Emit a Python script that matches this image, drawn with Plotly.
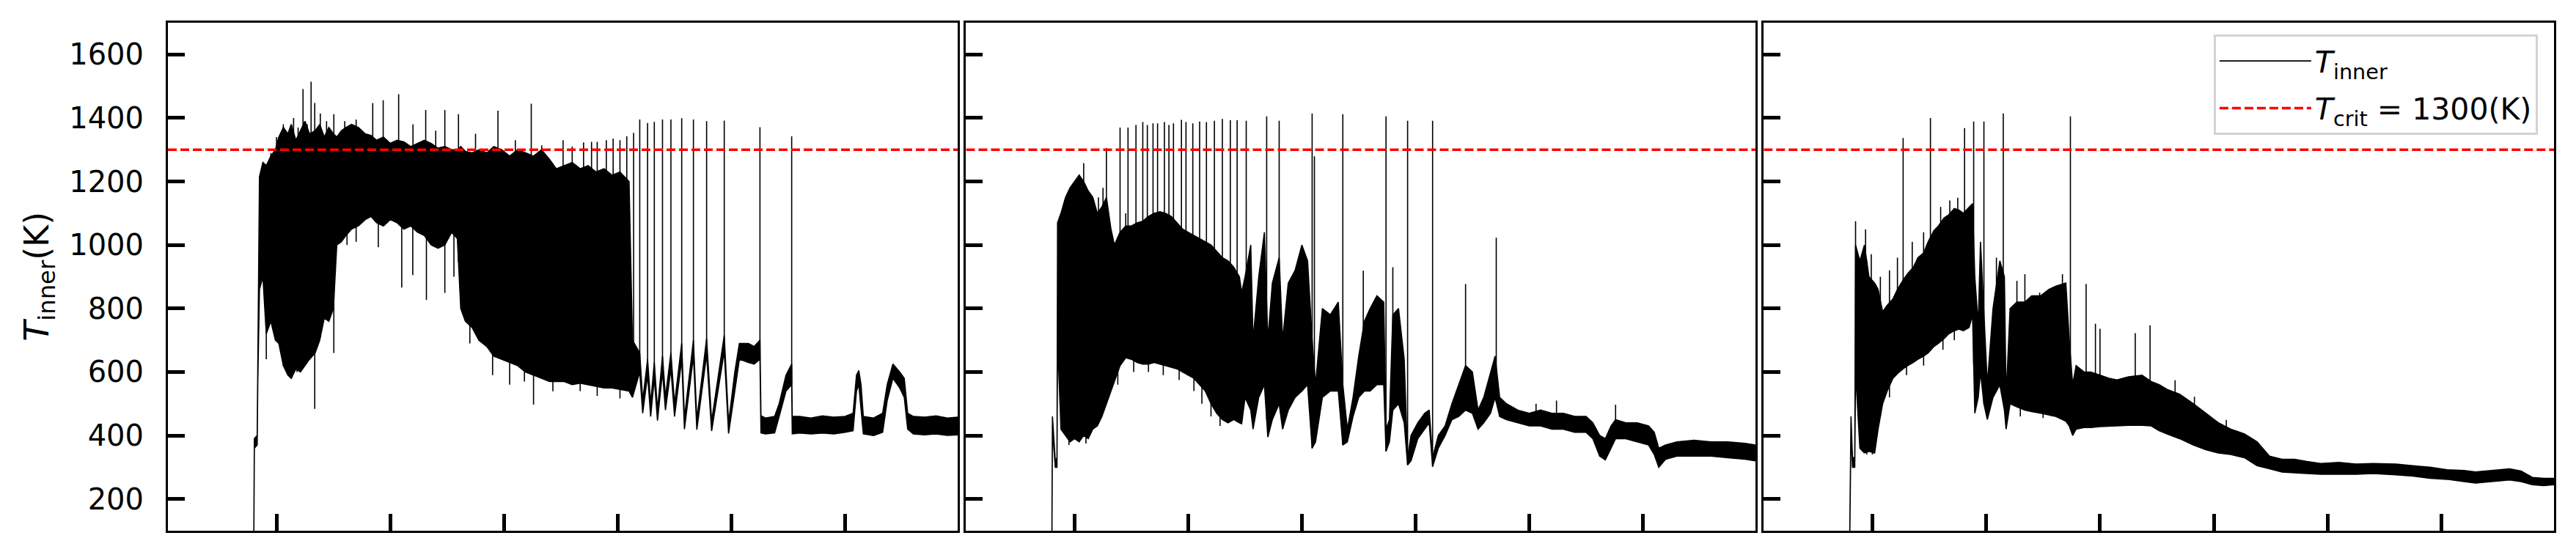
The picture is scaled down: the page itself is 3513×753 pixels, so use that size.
import numpy as np
import plotly.graph_objects as go
from plotly.subplots import make_subplots

T_CRIT = 1300
X_RANGE = [0.045, 6.99]
Y_RANGE = [100, 1700]
x_ticks = [1, 2, 3, 4, 5, 6]
y_ticks = [200, 400, 600, 800, 1000, 1200, 1400, 1600]

# ---- panel 1: envelope of the noisy T_inner signal (time, upper, lower)
t1 = [0.800, 0.805, 0.830, 0.835, 0.850, 0.880, 0.910, 0.950, 0.990, 1.020,
      1.060, 1.100, 1.130, 1.170, 1.210, 1.250, 1.290, 1.340, 1.380, 1.420,
      1.460, 1.500, 1.530, 1.570, 1.610, 1.660, 1.720, 1.780, 1.830, 1.880,
      1.940, 2.000, 2.060, 2.120, 2.180, 2.240, 2.300, 2.360, 2.420, 2.480,
      2.540, 2.590, 2.620, 2.660, 2.720, 2.780, 2.850, 2.910, 2.980, 3.050,
      3.120, 3.190, 3.260, 3.330, 3.400, 3.460, 3.530, 3.600, 3.670, 3.740,
      3.810, 3.880, 3.950, 4.020, 4.100, 4.130, 4.194, 4.220, 4.263, 4.290,
      4.322, 4.350, 4.394, 4.420, 4.468, 4.500, 4.563, 4.587, 4.666, 4.696,
      4.782, 4.826, 4.937, 4.975, 5.030, 5.070, 5.150, 5.200, 5.251, 5.260,
      5.300, 5.380, 5.420, 5.480, 5.530, 5.535, 5.600, 5.700, 5.800, 5.900,
      6.000, 6.070, 6.100, 6.120, 6.140, 6.160, 6.250, 6.330, 6.370, 6.420,
      6.480, 6.520, 6.550, 6.600, 6.700, 6.800, 6.900, 6.990]
hi1 = [60, 390, 400, 610, 1215, 1260, 1250, 1280, 1300, 1340,
       1370, 1350, 1380, 1330, 1360, 1390, 1350, 1360, 1380, 1340,
       1370, 1350, 1340, 1360, 1370, 1380, 1370, 1350, 1345, 1330,
       1340, 1320, 1330, 1325, 1310, 1320, 1330, 1320, 1305, 1310,
       1300, 1300, 1310, 1295, 1290, 1300, 1290, 1310, 1300, 1280,
       1300, 1290, 1280, 1300, 1270, 1240, 1250, 1260, 1240, 1250,
       1230, 1240, 1220, 1230, 1200, 700, 660, 510, 640, 500,
       630, 480, 650, 520, 660, 500, 690, 455, 700, 450,
       705, 445, 715, 440, 600, 690, 690, 680, 700, 462,
       455, 460, 500, 590, 625, 460, 460, 455, 462, 458,
       460, 470, 590, 605, 560, 460, 455, 470, 560, 625,
       600, 580, 470, 460, 458, 462, 455, 458]
lo1 = [40, 360, 370, 560, 860, 900, 720, 760, 700, 690,
       620, 590, 580, 610, 600, 620, 640, 660, 700, 770,
       760, 800, 1000, 1010, 1030, 1050, 1060, 1080, 1090, 1070,
       1060, 1080, 1070, 1050, 1060, 1040, 1030, 1000, 990, 1000,
       1040, 1020, 800, 760, 740, 700, 680, 650, 640, 630,
       620, 600, 590, 580, 570, 570, 570, 560, 565, 560,
       555, 550, 550, 545, 540, 520, 600, 470, 590, 460,
       580, 447, 600, 480, 610, 460, 640, 420, 650, 418,
       655, 414, 665, 406, 540, 640, 630, 625, 640, 408,
       405, 408, 460, 540, 560, 405, 408, 405, 408, 405,
       410, 415, 540, 560, 480, 405, 400, 410, 510, 580,
       550, 520, 420, 405, 402, 405, 400, 402]
spike_t1 = [0.95, 1.00, 1.06, 1.15, 1.19, 1.233, 1.27, 1.304, 1.336, 1.385,
            1.44, 1.504, 1.60, 1.70, 1.846, 1.938, 2.074, 2.20, 2.312, 2.40,
            2.48, 2.60, 2.75, 2.947, 3.10, 3.24, 3.332, 3.52, 3.60, 3.70,
            3.77, 3.82, 3.90, 3.96, 4.02, 4.08, 4.14, 4.194, 4.263, 4.322,
            4.394, 4.468, 4.563, 4.666, 4.782, 4.937, 5.251, 5.530]
spike_T1 = [1290, 1340, 1380, 1400, 1370, 1491, 1380, 1514, 1447, 1414,
            1390, 1412, 1390, 1395, 1447, 1456, 1475, 1380, 1425, 1360,
            1425, 1412, 1350, 1423, 1330, 1445, 1314, 1330, 1310, 1323,
            1325, 1325, 1330, 1335, 1330, 1342, 1353, 1395, 1384, 1388,
            1395, 1395, 1399, 1395, 1390, 1392, 1371, 1342]
dip_t1 = [0.91, 1.125, 1.18, 1.336, 1.504, 1.62, 1.70, 1.895, 2.101, 2.198,
          2.318, 2.48, 2.56, 2.70, 2.90, 3.05, 3.18, 3.26, 3.43, 3.67,
          3.82, 4.02]
dip_T1 = [640, 583, 600, 484, 660, 1000, 1010, 993, 866, 905,
          827, 849, 900, 690, 590, 560, 570, 497, 539, 540,
          525, 517]

# ---- panel 2
t2 = [0.800, 0.805, 0.830, 0.845, 0.850, 0.880, 0.920, 0.960, 1.000, 1.040,
      1.080, 1.120, 1.160, 1.200, 1.240, 1.280, 1.320, 1.350, 1.400, 1.450,
      1.500, 1.550, 1.600, 1.650, 1.700, 1.750, 1.800, 1.850, 1.900, 1.950,
      2.000, 2.050, 2.100, 2.150, 2.200, 2.250, 2.300, 2.350, 2.400, 2.450,
      2.470, 2.500, 2.550, 2.570, 2.620, 2.670, 2.700, 2.740, 2.800, 2.830,
      2.880, 2.940, 3.000, 3.050, 3.090, 3.120, 3.180, 3.250, 3.320, 3.360,
      3.400, 3.450, 3.500, 3.550, 3.600, 3.660, 3.720, 3.740, 3.770, 3.800,
      3.850, 3.900, 3.930, 3.960, 4.020, 4.080, 4.120, 4.150, 4.200, 4.260,
      4.320, 4.380, 4.440, 4.500, 4.550, 4.600, 4.660, 4.700, 4.740, 4.800,
      4.900, 5.000, 5.100, 5.200, 5.300, 5.400, 5.500, 5.560, 5.620, 5.670,
      5.720, 5.760, 5.850, 5.950, 6.050, 6.100, 6.140, 6.200, 6.300, 6.450,
      6.600, 6.750, 6.900, 6.990]
hi2 = [60, 460, 320, 330, 1070, 1100, 1150, 1180, 1200, 1220,
       1200, 1170, 1150, 1100, 1120, 1150, 1050, 1000, 1040, 1060,
       1060, 1070, 1075, 1090, 1100, 1105, 1100, 1090, 1070, 1050,
       1040, 1030, 1020, 1010, 1000, 980, 960, 950, 930, 900,
       850, 900, 1000, 700, 900, 1040, 700, 880, 960, 700,
       880, 920, 1000, 950, 700, 560, 800, 780, 820, 560,
       420, 520, 650, 760, 800, 840, 820, 420, 450, 780,
       800, 640, 330, 400, 440, 470, 480, 330, 400, 430,
       500, 560, 620, 600, 480, 520, 600, 650, 520, 500,
       480, 470, 480, 470, 470, 460, 460, 440, 400, 390,
       430, 450, 440, 440, 430, 410, 360, 370, 380, 385,
       380, 380, 375, 370]
lo2 = [40, 420, 300, 300, 700, 420, 400, 380, 390, 380,
       400, 390, 420, 430, 460, 500, 540, 570, 620, 645,
       640, 630, 625, 625, 630, 625, 620, 615, 610, 600,
       590, 580, 560, 540, 500, 470, 450, 440, 450, 440,
       437, 520, 480, 420, 520, 560, 395, 450, 500, 420,
       480, 520, 540, 560, 360, 380, 520, 540, 540, 370,
       380, 460, 520, 540, 540, 560, 560, 350, 380, 480,
       500, 440, 307, 320, 390, 420, 440, 302, 360, 400,
       450, 460, 480, 470, 420, 440, 470, 520, 460, 450,
       440, 430, 430, 420, 420, 410, 410, 390, 335, 323,
       360, 390, 390, 380, 370, 340, 300, 325, 335, 335,
       335, 330, 325, 320]
spike_t2 = [0.89, 0.92, 0.95, 1.00, 1.04, 1.08, 1.12, 1.17, 1.21, 1.25,
            1.28, 1.40, 1.45, 1.47, 1.54, 1.60, 1.64, 1.69, 1.73, 1.79,
            1.83, 1.87, 1.94, 1.98, 2.04, 2.10, 2.16, 2.23, 2.30, 2.37,
            2.43, 2.51, 2.69, 2.80, 3.09, 3.11, 3.36, 3.54, 3.74, 3.80,
            3.93, 4.15, 4.44, 4.71, 5.06, 5.24, 5.76]
spike_T2 = [1070, 1110, 1100, 1180, 1222, 1258, 1150, 1120, 1150, 1180,
            1305, 1370, 1100, 1370, 1378, 1387, 1378, 1383, 1383, 1387,
            1378, 1383, 1394, 1387, 1383, 1389, 1387, 1391, 1397, 1393,
            1393, 1391, 1405, 1391, 1414, 1279, 1412, 919, 1405, 930,
            1391, 1391, 877, 1023, 500, 510, 497]
dip_t2 = [0.95, 1.10, 1.38, 1.52, 1.65, 1.78, 1.92, 2.05, 2.12, 2.20, 2.28]
dip_T2 = [370, 375, 560, 600, 600, 590, 575, 540, 500, 460, 430]

# ---- panel 3
t3 = [0.800, 0.812, 0.825, 0.845, 0.852, 0.890, 0.930, 0.970, 1.020, 1.050,
      1.090, 1.130, 1.180, 1.220, 1.270, 1.310, 1.360, 1.400, 1.450, 1.490,
      1.540, 1.580, 1.630, 1.670, 1.720, 1.760, 1.800, 1.850, 1.880, 1.900,
      1.930, 1.950, 1.980, 2.010, 2.060, 2.120, 2.160, 2.175, 2.210, 2.270,
      2.340, 2.400, 2.480, 2.550, 2.610, 2.700, 2.730, 2.760, 2.790, 2.860,
      2.920, 3.000, 3.080, 3.150, 3.250, 3.370, 3.450, 3.520, 3.590, 3.700,
      3.820, 3.930, 4.040, 4.150, 4.270, 4.380, 4.490, 4.600, 4.710, 4.820,
      4.940, 5.100, 5.250, 5.400, 5.600, 5.750, 5.900, 6.050, 6.200, 6.300,
      6.450, 6.600, 6.700, 6.800, 6.900, 6.990]
hi3 = [60, 460, 330, 330, 1000, 950, 1000, 900, 880, 860,
       790, 810, 830, 860, 890, 910, 930, 960, 975, 1010,
       1045, 1060, 1085, 1095, 1115, 1110, 1100, 1120, 1130, 900,
       750, 1010, 800, 560, 800, 950, 900, 520, 800, 820,
       820, 840, 840, 860, 870, 880, 700, 560, 620, 600,
       600, 590, 580, 575, 585, 590, 570, 560, 545, 530,
       500, 470, 440, 420, 405, 380, 335, 325, 325, 318,
       312, 315, 310, 312, 310, 305, 300, 292, 290, 285,
       290, 295, 288, 268, 265, 265]
lo3 = [40, 420, 300, 300, 600, 360, 345, 350, 345, 420,
       500, 540, 580, 595, 610, 620, 630, 640, 650, 660,
       680, 690, 705, 720, 730, 735, 730, 740, 780, 470,
       520, 600, 500, 450, 520, 560, 480, 420, 500, 490,
       480, 475, 470, 465, 460, 445, 430, 400, 420, 425,
       425, 428, 430, 430, 432, 432, 430, 415, 405, 390,
       370, 355, 345, 340, 330, 305, 295, 285, 282, 280,
       278, 278, 278, 280, 276, 272, 265, 262, 255, 250,
       255, 260, 255, 245, 242, 245]
spike_t3 = [0.852, 0.94, 0.99, 1.07, 1.15, 1.22, 1.27, 1.35, 1.45, 1.51,
            1.60, 1.68, 1.75, 1.81, 1.89, 1.98, 2.09, 2.15, 2.27, 2.34,
            2.47, 2.61, 2.67, 2.74, 2.878, 2.96, 3.00, 3.31, 3.44, 3.66,
            3.83, 4.11]
spike_T3 = [1075, 1049, 971, 900, 920, 960, 1337, 1010, 1040, 1400,
            1120, 1140, 1149, 1368, 1389, 1389, 960, 1414, 887, 908,
            850, 835, 908, 1405, 877, 752, 736, 722, 747, 574,
            522, 449]
dip_t3 = [0.95, 1.00, 1.15, 1.30, 1.45, 1.62, 1.72, 2.30, 2.50]
dip_T3 = [340, 340, 520, 590, 620, 670, 700, 460, 455]

panels = [
    (t1, hi1, lo1, spike_t1, spike_T1, dip_t1, dip_T1),
    (t2, hi2, lo2, spike_t2, spike_T2, dip_t2, dip_T2),
    (t3, hi3, lo3, spike_t3, spike_T3, dip_t3, dip_T3),
]

fig = make_subplots(rows=1, cols=3, shared_yaxes=True)

font = "DejaVu Sans"
lw = 1.6

for i, (t, hi, lo, st, sT, dt, dT) in enumerate(panels):
    col = i + 1
    # spikes drawn from the band up to the peak, dips from the band down
    sx, sy = [], []
    for a, b, c in zip(st, np.interp(st, t, lo), sT):
        sx += [a, a, None]
        sy += [b, c, None]
    for a, b, c in zip(dt, np.interp(dt, t, hi), dT):
        sx += [a, a, None]
        sy += [b, c, None]
    fig.add_trace(go.Scatter(
        x=sx, y=sy, mode="lines", line=dict(color="black", width=lw),
        name="<i>T</i><sub>inner</sub>", legendgroup="a",
        showlegend=(i == 0)),
        row=1, col=col)

    # the dense oscillation band
    fig.add_trace(go.Scatter(
        x=t + t[::-1], y=hi + lo[::-1], mode="lines", fill="toself",
        fillcolor="black", line=dict(color="black", width=lw),
        showlegend=False, hoverinfo="skip"),
        row=1, col=col)

    fig.add_trace(go.Scatter(
        x=X_RANGE, y=[T_CRIT, T_CRIT], mode="lines",
        line=dict(color="red", width=3.5, dash="12px,5px"),
        name="<i>T</i><sub>crit</sub> = 1300(K)", legendgroup="b",
        showlegend=(i == 0)),
        row=1, col=col)

domains = [[0, 0.3310], [0.3345, 0.6653], [0.6688, 1]]
for i in range(3):
    fig.update_xaxes(domain=domains[i], row=1, col=i + 1)

fig.update_xaxes(
    range=X_RANGE, tickvals=x_ticks, showticklabels=False,
    ticks="inside", ticklen=23, tickwidth=4.5, tickcolor="black",
    showline=True, linewidth=3, linecolor="black", mirror=True,
    showgrid=False, zeroline=False)
fig.update_yaxes(
    range=Y_RANGE, tickvals=y_ticks,
    ticks="inside", ticklen=23, tickwidth=4.5, tickcolor="black",
    showline=True, linewidth=3, linecolor="black", mirror=True,
    showgrid=False, zeroline=False,
    tickfont=dict(family=font, size=40, color="black"))
fig.update_yaxes(ticklabelstandoff=22, row=1, col=1)
fig.update_yaxes(showticklabels=False, row=1, col=2)
fig.update_yaxes(showticklabels=False, row=1, col=3)

fig.add_annotation(
    text="<i>T</i><sub>inner</sub>(K)", xref="paper", yref="paper",
    x=-0.064, y=0.5, textangle=-90, showarrow=False,
    font=dict(family=font, size=46, color="black"))

fig.update_layout(
    width=3513, height=753,
    margin=dict(l=229, r=30, t=31, b=29),
    paper_bgcolor="white", plot_bgcolor="white",
    font=dict(family=font, color="black"),
    legend=dict(
        x=0.9932, y=0.977, xanchor="right", yanchor="top",
        bgcolor="white", bordercolor="#d3d3d3", borderwidth=3,
        font=dict(family=font, size=41, color="black"),
        traceorder="grouped", tracegroupgap=8,
        itemwidth=125),
)

fig.write_html("out.html", config={"displayModeBar": False},
               post_script="document.body.style.margin='0';")
